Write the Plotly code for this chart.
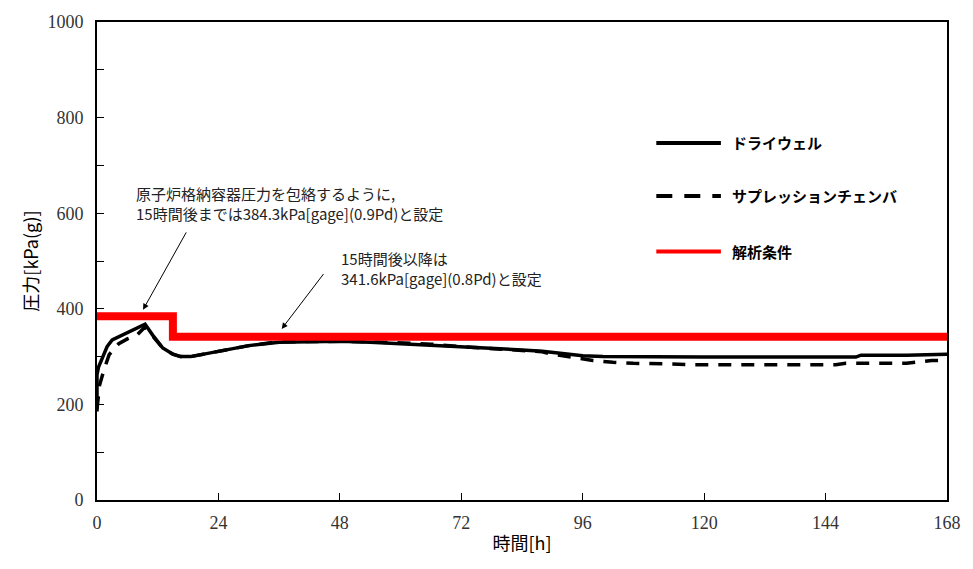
import plotly.graph_objects as go

# Time [h] and pressure [kPa(g)] histories
dw_time = [0, 0, 0.3, 1, 2, 3, 5, 7, 9.5, 11, 13, 15, 16.5, 18.5, 21, 24, 30, 36, 42, 48,
           54, 60, 66, 72, 78, 84, 88, 92, 96, 100, 110, 120, 130, 140, 150, 151, 160, 168]
dw_pressure = [185, 262, 278, 296, 321, 335, 345, 355, 368, 345, 318, 305, 300, 300, 305, 312, 323, 330, 331, 332,
               330, 327, 324, 320, 317, 314, 311, 306, 302, 300, 299, 299, 299, 299, 299, 303, 303, 305]

sc_time = [0, 0.5, 1.4, 2.4, 4.3, 6, 7.9, 9.5, 11, 13, 15, 16.5, 18.5, 21, 24, 30, 36, 42, 48,
           54, 60, 66, 72, 78, 84, 88, 90, 94, 98, 102, 106, 112, 118, 130, 146, 148, 160, 165, 168]
sc_pressure = [190, 240, 273, 304, 327, 337, 345, 362, 343, 318, 305, 300, 300, 305, 312, 323, 331, 332, 332,
               331, 329, 326, 321, 317, 313, 310, 305, 298, 292, 288, 286, 285, 283, 283, 283, 286, 286, 292, 292]

cond_time = [0, 15, 168]
cond_pressure = [384.3, 341.6, 341.6]

x_ticks = [0, 24, 48, 72, 96, 120, 144, 168]
y_ticks = [0, 200, 400, 600, 800, 1000]

series_names = ["ドライウェル", "サプレッションチェンバ", "解析条件"]

jp_font = "Noto Sans CJK JP"

fig = go.Figure()
fig.add_trace(go.Scatter(x=sc_time, y=sc_pressure, mode="lines", name=series_names[1],
                         line=dict(color="black", width=3.5, dash="13px,10px")))
fig.add_trace(go.Scatter(x=dw_time, y=dw_pressure, mode="lines", name=series_names[0],
                         line=dict(color="black", width=3.5)))
fig.add_trace(go.Scatter(x=cond_time, y=cond_pressure, mode="lines", name=series_names[2],
                         line=dict(color="#ff0000", width=8, shape="hv")))

axis_common = dict(showgrid=False, zeroline=False, showline=True, linecolor="black",
                   linewidth=2, mirror=True, ticks="inside", ticklen=7, tickwidth=1,
                   tickcolor="black",
                   tickfont=dict(family="Liberation Serif", size=18, color="#333"))

fig.update_xaxes(range=[0, 168], tickvals=x_ticks, ticklabelstandoff=5,
                 title=dict(text="時間[h]", font=dict(family=jp_font, size=18, color="black"),
                            standoff=6),
                 **axis_common)
fig.update_yaxes(range=[0, 1000], tickvals=y_ticks, ticklabelstandoff=8,
                 minor=dict(dtick=100, ticks="inside", ticklen=7, tickcolor="black"),
                 title=dict(text="圧力[kPa(g)]", font=dict(family=jp_font, size=18, color="black"),
                            standoff=4),
                 **axis_common)

# Hand-drawn legend on the right
legend_y = [0.747, 0.636, 0.520]
legend_styles = [dict(color="black", width=4),
                 dict(color="black", width=4, dash="16px,12px"),
                 dict(color="#ff0000", width=4)]
shapes = []
annotations = []
for name, yy, st in zip(series_names, legend_y, legend_styles):
    shapes.append(dict(type="line", xref="paper", yref="paper", x0=0.658, x1=0.734,
                       y0=yy, y1=yy, line=st))
    annotations.append(dict(xref="paper", yref="paper", x=0.745, y=yy, text=f"<b>{name}</b>",
                            showarrow=False, xanchor="left", yanchor="middle",
                            font=dict(family=jp_font, size=15, color="black")))

# Explanatory notes with arrows
note_font = dict(family=jp_font, size=15, color="#222")
annotations.append(dict(x=7.3, y=620, xref="x", yref="y", showarrow=False,
                        xanchor="left", yanchor="middle", align="left", font=note_font,
                        text="原子炉格納容器圧力を包絡するように,<br>15時間後までは384.3kPa[gage](0.9Pd)と設定"))
annotations.append(dict(x=47.8, y=484, xref="x", yref="y", showarrow=False,
                        xanchor="left", yanchor="middle", align="left", font=note_font,
                        text="15時間後以降は<br>341.6kPa[gage](0.8Pd)と設定"))
annotations.append(dict(x=9.1, y=398, ax=17.8, ay=563, xref="x", yref="y", axref="x", ayref="y",
                        text="", showarrow=True, arrowhead=2, arrowsize=1.2, arrowwidth=1,
                        arrowcolor="black"))
annotations.append(dict(x=36.5, y=358, ax=45, ay=476, xref="x", yref="y", axref="x", ayref="y",
                        text="", showarrow=True, arrowhead=2, arrowsize=1.2, arrowwidth=1,
                        arrowcolor="black"))

fig.update_layout(width=973, height=569, showlegend=False,
                  margin=dict(l=97, r=25, t=17, b=69),
                  plot_bgcolor="white", paper_bgcolor="white",
                  shapes=shapes, annotations=annotations)

fig.write_html("out.html")
